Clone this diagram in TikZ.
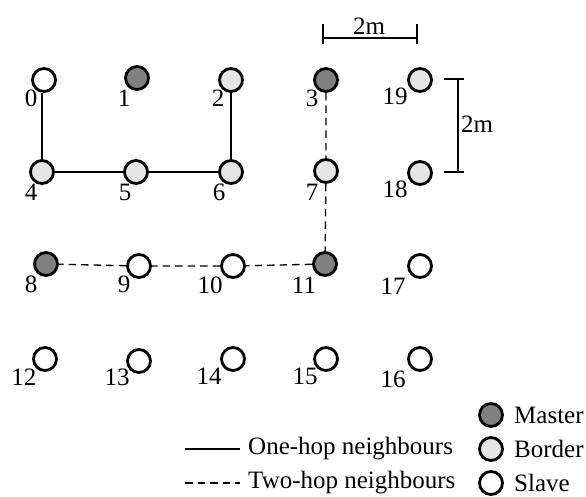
\documentclass[tikz,border=0pt]{standalone}
\usepackage{fontspec}
\setmainfont{Liberation Serif}
\begin{document}
\begin{tikzpicture}[x=1pt,y=-1pt,
  font=\fontsize{25}{27}\selectfont,
  sensor/.style={circle,draw=black,line width=2.8pt,minimum size=23pt,inner sep=0pt},
  master/.style={sensor,fill=black!50},
  border/.style={sensor,fill=black!10},
  slave/.style={sensor,fill=white},
  lbl/.style={inner sep=0pt,anchor=center},
  key/.style={inner sep=0pt,anchor=west},
  onehop/.style={line width=1.3pt},
  twohop/.style={line width=1.3pt,dash pattern=on 7.5pt off 5pt},
  bar/.style={line width=1.3pt}]
\useasboundingbox (0,0) rectangle (586,497);

% grid of sensors
\node[slave]  (n0)  at (44,80)  {};
\node[master] (n1)  at (137,78) {};
\node[border] (n2)  at (231,80) {};
\node[master] (n3)  at (326,80) {};
\node[border] (n19) at (420,80) {};

\node[border] (n4)  at (42,172)  {};
\node[border] (n5)  at (136,172) {};
\node[border] (n6)  at (231,172) {};
\node[border] (n7)  at (326,171) {};
\node[border] (n18) at (420,173) {};

\node[master] (n8)  at (46,264)  {};
\node[slave]  (n9)  at (139,266) {};
\node[slave]  (n10) at (233,266) {};
\node[master] (n11) at (325,264) {};
\node[slave]  (n17) at (420,266) {};

\node[slave]  (n12) at (45,359)  {};
\node[slave]  (n13) at (139,361) {};
\node[slave]  (n14) at (233,359) {};
\node[slave]  (n15) at (326,359) {};
\node[slave]  (n16) at (420,359) {};

% one-hop links
\draw[onehop] (n4 |- n0.south) -- (n4) -- (n5) -- (n6) -- (n2);
% two-hop links
\draw[twohop] (n3) -- (n7) -- (n11) -- (n10) -- (n9) -- (n8);

% sensor numbers
\node[lbl] (t0)  at (31,98)  {0};
\node[lbl] (t1)  at (124,98) {1};
\node[lbl] (t2)  at (218,98) {2};
\node[lbl] (t3)  at (312,98) {3};
\node[lbl] (t19) at (395,96) {19};
\node[lbl] (t4)  at (31,192) {4};
\node[lbl] (t5)  at (125,192) {5};
\node[lbl] (t6)  at (219,192) {6};
\node[lbl] (t7)  at (312,192) {7};
\node[lbl] (t18) at (395,189) {18};
\node[lbl] (t8)  at (31,284) {8};
\node[lbl] (t9)  at (124,284) {9};
\node[lbl] (t10) at (210,285) {10};
\node[lbl] (t11) at (304,285) {11};
\node[lbl] (t17) at (393,286) {17};
\node[lbl] (t12) at (24,377) {12};
\node[lbl] (t13) at (117,377) {13};
\node[lbl] (t14) at (209,376) {14};
\node[lbl] (t15) at (305,376) {15};
\node[lbl] (t16) at (393,379) {16};

% scale bars
\coordinate (hl) at (323,38);
\coordinate (hr) at (417,38);
\draw[bar] (hl) -- (hr);
\draw[bar] ([yshift=-6pt]hl) -- ([yshift=14pt]hl);
\draw[bar] ([yshift=-6pt]hr) -- ([yshift=14pt]hr);
\node[lbl] (hm) at (369,26) {2m};

\coordinate (vt) at (458,79);
\coordinate (vb) at (458,172);
\draw[bar] (vt) -- (vb);
\draw[bar] ([xshift=-14pt]vt) -- ([xshift=6pt]vt);
\draw[bar] ([xshift=-14pt]vb) -- ([xshift=6pt]vb);
\node[key] (vm) at (461,124) {2m};

% legend: link styles
\coordinate (s1) at (185,449);
\coordinate (s2) at (240,449);
\draw[onehop] (s1) -- (s2);
\node[key] (k1) at (248,449) {One-hop neighbours};
\coordinate (d1) at (185,483);
\coordinate (d2) at (240,483);
\draw[twohop] (d1) -- (d2);
\node[key] (k2) at (248,483) {Two-hop neighbours};

% legend: sensor roles
\node[master] (km) at (491,415) {};
\node[key] (tm) at (514,415) {Master};
\node[border] (kb) at (491,449) {};
\node[key] (tb) at (514,449) {Border};
\node[slave] (ks) at (491,483) {};
\node[key] (ts) at (514,483) {Slave};
\end{tikzpicture}
\end{document}
